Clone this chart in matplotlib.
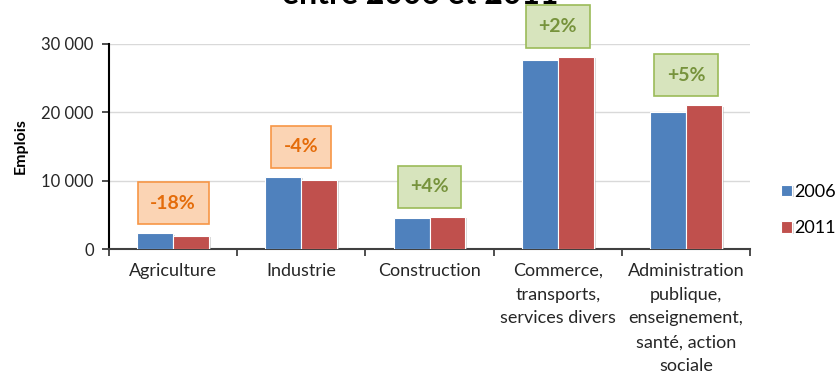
import matplotlib
matplotlib.use('Agg')
import matplotlib.pyplot as plt
import matplotlib.patheffects as pe
import numpy as np

categories = ['Agriculture', 'Industrie', 'Construction',
              'Commerce,\ntransports,\nservices divers',
              'Administration\npublique,\nenseignement,\nsanté, action\nsociale']
emplois_2006 = [2300, 10550, 4500, 27650, 20050]
emplois_2011 = [1900, 10100, 4700, 28150, 21050]
evolution = ['-18%', '-4%', '+4%', '+2%', '+5%']

plt.rcParams['font.family'] = ['Lato', 'DejaVu Sans']

fig = plt.figure(figsize=(8.39, 3.76), dpi=100)
ax = fig.add_axes([109 / 839, 1 - 249 / 376, (750 - 109) / 839, (249 - 44) / 376])

x = np.arange(len(categories))
w = 0.28
shadow = [pe.SimplePatchShadow(offset=(1.5, -1), shadow_rgbFace='#b0b0b0', alpha=0.5), pe.Normal()]
b1 = ax.bar(x - w / 2, emplois_2006, w, color='#4F81BD', edgecolor='white', linewidth=0.8,
            label='2006', zorder=3, path_effects=shadow)
b2 = ax.bar(x + w / 2, emplois_2011, w, color='#C0504D', edgecolor='white', linewidth=0.8,
            label='2011', zorder=3, path_effects=shadow)

for i, txt in enumerate(evolution):
    top = max(emplois_2006[i], emplois_2011[i])
    if txt.startswith('-'):
        fc, ec, tc = '#FBD4B4', '#F79646', '#E46C0A'
    else:
        fc, ec, tc = '#D7E4BD', '#9BBB59', '#77933C'
    ax.text(x[i], top + 4400, txt, ha='center', va='center', fontsize=14, fontweight='bold',
            color=tc, zorder=5, clip_on=False,
            bbox=dict(boxstyle='square,pad=0.65', fc=fc, ec=ec, lw=1.2))

ax.set_xlim(-0.5, len(categories) - 0.5)
ax.set_ylim(0, 30000)
ax.set_yticks([0, 10000, 20000, 30000])
ax.set_yticklabels(['0', '10 000', '20 000', '30 000'], fontsize=12, color='#262626')
ax.yaxis.grid(True, color='#D9D9D9', linewidth=1, zorder=0)
ax.set_axisbelow(True)

ax.set_xticks(np.arange(-0.5, len(categories)), minor=False)
ax.set_xticklabels([])
ax.set_xticks(x, minor=True)
ax.set_xticklabels(categories, minor=True, fontsize=13, linespacing=1.6, va='top', color='#262626')
ax.tick_params(axis='x', which='minor', length=0, pad=10)
ax.tick_params(axis='x', which='major', length=5, width=1.3, color='#404040', direction='out')
ax.tick_params(axis='y', length=5, width=1.3, color='#404040', direction='out', pad=6)

for s in ['top', 'right']:
    ax.spines[s].set_visible(False)
ax.spines['left'].set_linewidth(1.5)
ax.spines['bottom'].set_linewidth(1.5)
ax.spines['bottom'].set_color('#404040')

ax.set_ylabel('Emplois', fontsize=11.5, fontweight='bold', labelpad=10)

fig.legend(handles=[b1, b2], labels=['2006', '2011'], loc='center left',
           bbox_to_anchor=(781 / 839, 1 - 210 / 376), frameon=False, fontsize=13,
           handlelength=0.6, handleheight=0.6, handletextpad=0.15, labelspacing=1.15,
           borderaxespad=0, borderpad=0)

fig.text(420 / 839, 1 - 4 / 376, 'entre 2006 et 2011', ha='center', va='baseline',
         fontsize=23, fontweight='bold')

fig.savefig('out.png', dpi=100)
